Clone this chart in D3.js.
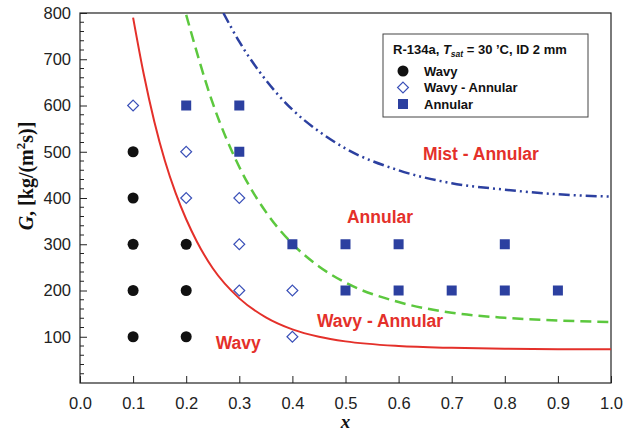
<!DOCTYPE html>
<html>
<head>
<meta charset="utf-8">
<script src="https://cdn.jsdelivr.net/npm/d3@7"></script>
<style>
  body { margin: 0; background: #fff; }
  svg text { font-family: "Liberation Sans", Arial, sans-serif; }
</style>
</head>
<body>
<div id="chart"></div>
<script>
const xTicks = [0, 0.1, 0.2, 0.3, 0.4, 0.5, 0.6, 0.7, 0.8, 0.9, 1.0];
const yTicks = [100, 200, 300, 400, 500, 600, 700, 800];

const wavyPts = [
  [0.1, 100], [0.1, 200], [0.1, 300], [0.1, 400], [0.1, 500],
  [0.2, 100], [0.2, 200], [0.2, 300]
];
const wavyAnnularPts = [
  [0.1, 600], [0.2, 500], [0.2, 400], [0.3, 400], [0.3, 300],
  [0.3, 200], [0.4, 200], [0.4, 100]
];
const annularPts = [
  [0.2, 600], [0.3, 600], [0.3, 500], [0.4, 300], [0.5, 300], [0.6, 300],
  [0.8, 300], [0.5, 200], [0.6, 200], [0.7, 200], [0.8, 200], [0.9, 200]
];

// transition curves
const wavyLine = [
  [0.1, 790], [0.12, 668], [0.14, 565], [0.16, 480], [0.18, 411], [0.2, 354],
  [0.22, 306], [0.25, 248], [0.3, 183], [0.35, 142], [0.4, 116], [0.45, 100],
  [0.5, 90], [0.6, 80], [0.7, 76], [0.8, 74], [0.9, 73], [1.0, 73]
];
const annularLine = [
  [0.2, 796], [0.25, 605], [0.3, 467], [0.35, 370], [0.4, 301], [0.45, 252],
  [0.5, 217], [0.6, 175], [0.7, 152], [0.8, 141], [0.9, 135], [1.0, 132]
];
const mistLine = [
  [0.27, 800], [0.3, 738], [0.35, 655], [0.4, 591], [0.45, 544], [0.5, 507],
  [0.6, 460], [0.7, 432], [0.8, 418], [0.9, 408], [1.0, 403]
];

const regionLabels = [
  { text: 'Mist - Annular', x: 0.755, y: 495 },
  { text: 'Annular', x: 0.565, y: 360 },
  { text: 'Wavy - Annular', x: 0.565, y: 135 },
  { text: 'Wavy', x: 0.298, y: 87 }
];

const width = 625, height = 435;
const margin = { top: 13, right: 14, bottom: 52, left: 80 };
const red = '#e4302a', green = '#5cc83e', blue = '#2c40a0';

const svg = d3.select('#chart').append('svg')
  .attr('width', width)
  .attr('height', height);

const x = d3.scaleLinear().domain([0, 1]).range([margin.left, width - margin.right]);
const y = d3.scaleLinear().domain([0, 800]).range([height - margin.bottom, margin.top]);

// frame
svg.append('rect')
  .attr('x', x(0)).attr('y', y(800))
  .attr('width', x(1) - x(0)).attr('height', y(0) - y(800))
  .attr('fill', 'none').attr('stroke', '#222').attr('stroke-width', 1.2);

// x axis ticks (inside)
const xAxis = svg.append('g').attr('transform', `translate(0,${y(0)})`)
  .call(d3.axisBottom(x).tickValues(xTicks).tickSize(-7).tickPadding(14)
    .tickFormat(d3.format('.1f')));
xAxis.select('.domain').remove();
xAxis.selectAll('line').attr('stroke', '#222');
xAxis.selectAll('text').attr('font-size', 16.5).attr('fill', '#222')
  .style('font-family', '"Liberation Sans", Arial, sans-serif');

// y axis ticks (inside) with minor ticks
const yAxis = svg.append('g').attr('transform', `translate(${x(0)},0)`)
  .call(d3.axisLeft(y).tickValues(yTicks).tickSize(-7).tickPadding(9));
yAxis.select('.domain').remove();
yAxis.selectAll('line').attr('stroke', '#222');
yAxis.selectAll('text').attr('font-size', 16.5).attr('fill', '#222')
  .style('font-family', '"Liberation Sans", Arial, sans-serif');

const yMinor = d3.range(20, 800, 20).filter(v => v % 100 !== 0);
svg.append('g').selectAll('line').data(yMinor).join('line')
  .attr('x1', x(0)).attr('x2', x(0) + 4)
  .attr('y1', d => y(d)).attr('y2', d => y(d))
  .attr('stroke', '#222');

// clip to plot area
svg.append('clipPath').attr('id', 'plot')
  .append('rect')
  .attr('x', x(0)).attr('y', y(800))
  .attr('width', x(1) - x(0)).attr('height', y(0) - y(800));

const line = d3.line().x(d => x(d[0])).y(d => y(d[1])).curve(d3.curveMonotoneX);
const curves = svg.append('g').attr('clip-path', 'url(#plot)');

curves.append('path').datum(wavyLine)
  .attr('d', line).attr('fill', 'none')
  .attr('stroke', red).attr('stroke-width', 2);
curves.append('path').datum(annularLine)
  .attr('d', line).attr('fill', 'none')
  .attr('stroke', green).attr('stroke-width', 2.5)
  .attr('stroke-dasharray', '11 6');
curves.append('path').datum(mistLine)
  .attr('d', line).attr('fill', 'none')
  .attr('stroke', blue).attr('stroke-width', 2.5)
  .attr('stroke-dasharray', '11 4 2 4 2 4');

// markers
svg.append('g').selectAll('circle').data(wavyPts).join('circle')
  .attr('cx', d => x(d[0])).attr('cy', d => y(d[1]))
  .attr('r', 5.5).attr('fill', '#111');

const diamond = d3.symbol().type(d3.symbolDiamond2).size(75);
svg.append('g').selectAll('path').data(wavyAnnularPts).join('path')
  .attr('transform', d => `translate(${x(d[0])},${y(d[1])})`)
  .attr('d', diamond)
  .attr('fill', 'none').attr('stroke', '#3a50b8').attr('stroke-width', 1.2);

svg.append('g').selectAll('rect').data(annularPts).join('rect')
  .attr('x', d => x(d[0]) - 5).attr('y', d => y(d[1]) - 5)
  .attr('width', 10).attr('height', 10)
  .attr('fill', blue);

// region labels
svg.append('g').selectAll('text').data(regionLabels).join('text')
  .attr('x', d => x(d.x)).attr('y', d => y(d.y))
  .attr('text-anchor', 'middle').attr('dy', '0.35em')
  .attr('font-size', 17.5).attr('font-weight', 'bold')
  .attr('fill', red)
  .text(d => d.text);

// legend
const lg = svg.append('g').attr('transform', 'translate(383,34)');
lg.append('rect').attr('width', 205).attr('height', 83)
  .attr('fill', '#fff').attr('stroke', '#444').attr('stroke-width', 1);
const title = lg.append('text').attr('x', 10).attr('y', 20)
  .attr('font-size', 13).attr('font-weight', 'bold').attr('fill', '#111');
title.append('tspan').text('R-134a,  ');
title.append('tspan').attr('font-style', 'italic').text('T');
title.append('tspan').attr('font-style', 'italic').attr('font-size', 8.5)
  .attr('dy', 3).text('sat');
title.append('tspan').attr('dy', -3).text(' = 30 \u2019C, ID 2 mm');

const legendItems = ['Wavy', 'Wavy - Annular', 'Annular'];
legendItems.forEach((t, i) => {
  const cy = 37 + i * 16.5;
  if (i === 0) {
    lg.append('circle').attr('cx', 20).attr('cy', cy).attr('r', 5.5).attr('fill', '#111');
  } else if (i === 1) {
    lg.append('path').attr('transform', `translate(20,${cy})`).attr('d', diamond)
      .attr('fill', 'none').attr('stroke', '#3a50b8').attr('stroke-width', 1.2);
  } else {
    lg.append('rect').attr('x', 15).attr('y', cy - 5).attr('width', 10).attr('height', 10)
      .attr('fill', blue);
  }
  lg.append('text').attr('x', 41).attr('y', cy).attr('dy', '0.35em')
    .attr('font-size', 13).attr('font-weight', 'bold').attr('fill', '#111')
    .text(t);
});

// axis titles
svg.append('text')
  .attr('x', (x(0) + x(1)) / 2).attr('y', 428)
  .attr('text-anchor', 'middle')
  .style('font-family', '"Liberation Serif", "Times New Roman", serif')
  .attr('font-size', 19).attr('font-weight', 'bold').attr('font-style', 'italic')
  .attr('fill', '#111')
  .text('x');

const yt = svg.append('text')
  .attr('transform', 'translate(33,176) rotate(-90)')
  .attr('text-anchor', 'middle')
  .style('font-family', '"Liberation Serif", "Times New Roman", serif')
  .attr('font-size', 20).attr('font-weight', 'bold').attr('fill', '#111');
yt.append('tspan').attr('font-style', 'italic').text('G');
yt.append('tspan').text(', [kg/(m');
yt.append('tspan').attr('font-size', 13).attr('dy', -8).text('2');
yt.append('tspan').attr('dy', 8).text('s)]');
</script>
</body>
</html>
